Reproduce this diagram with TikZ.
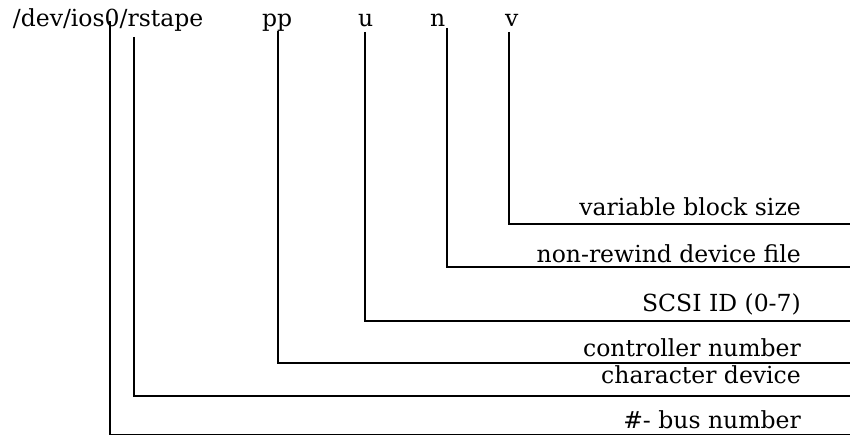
\documentclass[tikz,border=0pt]{standalone}
\usepackage{fontspec}
\setmainfont{DejaVu Serif}
\begin{document}
\begin{tikzpicture}[x=1pt,y=-1pt,
  txt/.style={inner sep=0pt,font=\fontsize{23.5}{27}\selectfont},
  lbl/.style={txt,anchor=base east},
  top/.style={txt,anchor=base west},
  conn/.style={line width=1.8pt}]
\useasboundingbox (0,0) rectangle (850,436);
% top text
\node[top] (path) at (12.7,27) {/dev/ios0/rstape};
\node[top] (pp) at (262,27) {pp};
\node[top] (u) at (358,27) {u};
\node[top] (n) at (430,27) {n};
\node[top] (v) at (505,27) {v};
% line starting points
\coordinate (sBus) at (110,21);
\coordinate (sChar) at (134,37);
\coordinate (sPP) at (278,31);
\coordinate (sU) at (365,32);
\coordinate (sN) at (447,28);
\coordinate (sV) at (509,32);
% right ends
\coordinate (eV) at (850,224);
\coordinate (eN) at (850,267);
\coordinate (eU) at (850,321);
\coordinate (ePP) at (850,363);
\coordinate (eChar) at (850,396);
\coordinate (eBus) at (850,434.5);
% labels
\node[lbl] (lV) at (801,215) {variable block size};
\node[lbl] (lN) at (801,262) {non-rewind device file};
\node[lbl] (lU) at (801,311) {SCSI ID (0-7)};
\node[lbl] (lPP) at (801,356) {controller number};
\node[lbl] (lChar) at (801,383) {character device};
\node[lbl] (lBus) at (801,428) {\#- bus number};
% connectors
\draw[conn] (sV) |- (eV);
\draw[conn] (sN) |- (eN);
\draw[conn] (sU) |- (eU);
\draw[conn] (sPP) |- (ePP);
\draw[conn] (sChar) |- (eChar);
\draw[conn] (sBus) |- (eBus);
\end{tikzpicture}
\end{document}
